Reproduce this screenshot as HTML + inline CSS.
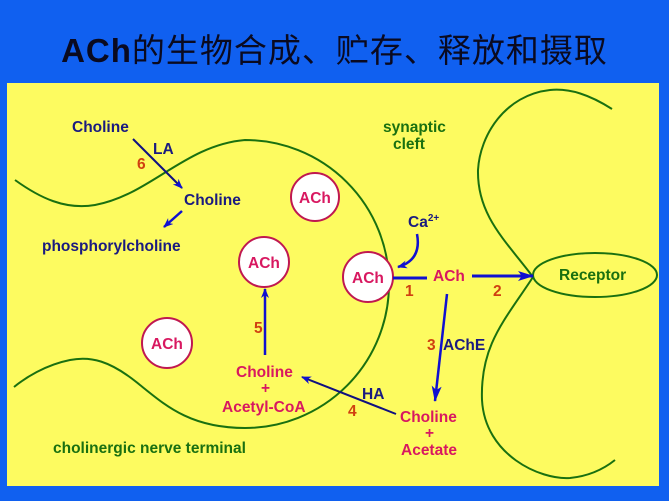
<!DOCTYPE html>
<html><head><meta charset="utf-8"><style>
body{margin:0;width:669px;height:501px;background:#1060f0;overflow:hidden;position:relative;font-family:"Liberation Sans",sans-serif;}
#title{position:absolute;left:0;width:669px;top:24px;text-align:center;font-size:33px;color:#0a0a20;font-family:"Liberation Sans","Noto Sans CJK SC",sans-serif;white-space:nowrap;letter-spacing:1px}
#title b{font-weight:bold}
svg{position:absolute;left:0;top:0}
text{font-family:"Liberation Sans",sans-serif;font-weight:bold;font-size:15.5px}
.n{fill:#1a1a80}.r{fill:#d81860}.o{fill:#d04010}.g{fill:#1a7010}
</style></head><body>
<div id="title"><b>ACh</b>的生物合成、贮存、释放和摄取</div>
<svg width="669" height="501">
<defs><marker id="a" markerWidth="10" markerHeight="8" refX="9" refY="4" orient="auto" markerUnits="userSpaceOnUse"><path d="M0,0L10,4L0,8L3,4Z" fill="#1010d0"/></marker>
<marker id="b" markerWidth="16" markerHeight="10" refX="15" refY="5" orient="auto" markerUnits="userSpaceOnUse"><path d="M0,0L16,5L0,10L4,5Z" fill="#1010d0"/></marker></defs>
<rect x="7" y="83" width="652" height="403" fill="#fdfb60"/>
<g fill="none" stroke="#1a7010" stroke-width="2">
<path d="M15,180 C40,198 65,210 95,205 C150,195 185,145 245,140 A143,143 0 0 1 245,428 C190,428 165,405 140,385 C110,360 90,356 70,360 C45,365 25,378 14,387"/>
<path d="M612,109 C590,95 570,88 550,90 C505,95 480,135 478,170 C477,215 505,240 533,277 C505,320 480,345 482,400 C485,455 540,480 570,478 C590,476 605,468 615,460"/>
<ellipse cx="595" cy="275" rx="62" ry="22"/>
</g>
<g fill="#fff" stroke="#c01850" stroke-width="2">
<circle cx="315" cy="197" r="24"/><circle cx="264" cy="262" r="25"/>
<circle cx="368" cy="277" r="25"/><circle cx="167" cy="343" r="25"/>
</g>
<g stroke="#1010d0" stroke-width="2.5" fill="none">
<line x1="133" y1="139" x2="182" y2="188" stroke="#101080" stroke-width="2" marker-end="url(#a)"/>
<line x1="182" y1="211" x2="164" y2="227" marker-end="url(#a)"/>
<line x1="265" y1="355" x2="265" y2="289" marker-end="url(#a)"/>
<path d="M417,234 C420,250 415,262 398,267" marker-end="url(#a)"/>
<line x1="393" y1="278" x2="427" y2="278" stroke-width="3"/>
<line x1="472" y1="276" x2="533" y2="276" stroke-width="3" marker-end="url(#b)"/>
<line x1="447" y1="294" x2="435" y2="401" marker-end="url(#b)"/>
<line x1="396" y1="414" x2="302" y2="377" stroke="#101080" stroke-width="2" marker-end="url(#a)"/>
</g>
<text x="72" y="132" class="n">Choline</text>
<text x="153" y="154" class="n">LA</text>
<text x="137" y="169" class="o">6</text>
<text x="184" y="205" class="n">Choline</text>
<text x="42" y="251" class="n">phosphorylcholine</text>
<text x="299" y="203" class="r">ACh</text>
<text x="248" y="268" class="r">ACh</text>
<text x="352" y="283" class="r">ACh</text>
<text x="151" y="349" class="r">ACh</text>
<text x="433" y="281" class="r">ACh</text>
<text x="383" y="132" class="g">synaptic</text>
<text x="393" y="149" class="g">cleft</text>
<text x="408" y="227" class="n">Ca<tspan dy="-6" font-size="10">2+</tspan></text>
<text x="405" y="296" class="o">1</text>
<text x="493" y="296" class="o">2</text>
<text x="559" y="280" class="g">Receptor</text>
<text x="427" y="350" class="o">3</text>
<text x="443" y="350" class="n">AChE</text>
<text x="254" y="333" class="o">5</text>
<text x="236" y="377" class="r">Choline</text>
<text x="261" y="393" class="r">+</text>
<text x="222" y="412" class="r">Acetyl-CoA</text>
<text x="362" y="399" class="n">HA</text>
<text x="348" y="416" class="o">4</text>
<text x="400" y="422" class="r">Choline</text>
<text x="425" y="438" class="r">+</text>
<text x="401" y="455" class="r">Acetate</text>
<text x="53" y="453" class="g">cholinergic nerve terminal</text>
</svg>
</body></html>
